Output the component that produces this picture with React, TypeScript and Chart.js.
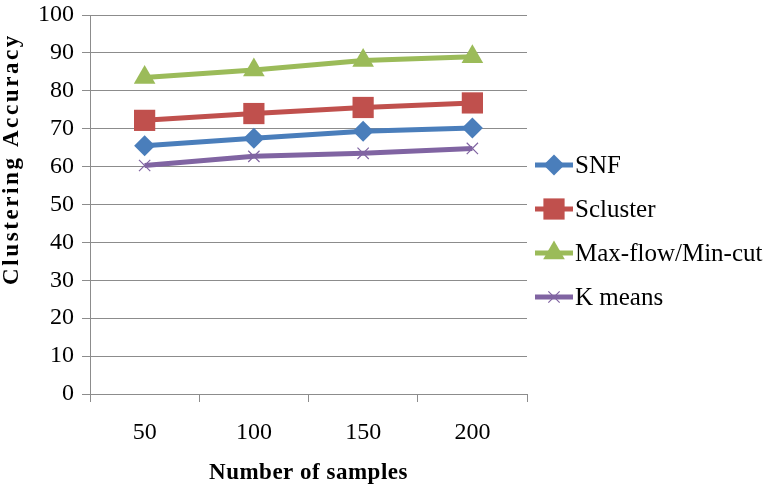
import React, { useEffect, useRef } from "react";
import { Chart, registerables } from "chart.js";

Chart.register(...registerables);

const categories = ["50", "100", "150", "200"];
const snf = [65.5, 67.5, 69.3, 70.2];
const scluster = [72.2, 74.0, 75.6, 76.8];
const maxflow = [83.5, 85.5, 88.0, 89.0];
const kmeans = [60.3, 62.7, 63.5, 64.8];
const seriesNames = ["SNF", "Scluster", "Max-flow/Min-cut", "K means"];
const xTitle = "Number of samples";
const yTitle = "Clustering Accuracy";

const colors = ["#4a7ebb", "#c0504d", "#9bbb59", "#8064a2"];
const styles = ["rectRot", "rect", "triangle", "crossRot"];
const radii = [10.5, 15, 12.5, 8];
const serif = "'Liberation Serif', 'Times New Roman', serif";

function drawMarker(ctx: CanvasRenderingContext2D, style: string, x: number, y: number, r: number, color: string) {
  ctx.save();
  ctx.fillStyle = color;
  ctx.strokeStyle = color;
  ctx.beginPath();
  if (style === "rectRot") {
    ctx.moveTo(x, y - r);
    ctx.lineTo(x + r, y);
    ctx.lineTo(x, y + r);
    ctx.lineTo(x - r, y);
    ctx.closePath();
    ctx.fill();
  } else if (style === "rect") {
    const s = r * Math.SQRT1_2;
    ctx.rect(x - s, y - s, 2 * s, 2 * s);
    ctx.fill();
  } else if (style === "triangle") {
    ctx.moveTo(x, y - r);
    ctx.lineTo(x + r * Math.sin(Math.PI / 3), y + r / 2);
    ctx.lineTo(x - r * Math.sin(Math.PI / 3), y + r / 2);
    ctx.closePath();
    ctx.fill();
  } else {
    const d = r * Math.SQRT1_2;
    ctx.lineWidth = 1.2;
    ctx.moveTo(x - d, y - d);
    ctx.lineTo(x + d, y + d);
    ctx.moveTo(x + d, y - d);
    ctx.lineTo(x - d, y + d);
    ctx.stroke();
  }
  ctx.restore();
}

const customPlugin = {
  id: "customDecor",
  afterDraw(chart: any) {
    const ctx: CanvasRenderingContext2D = chart.ctx;
    const area = chart.chartArea;
    // Y title
    ctx.save();
    ctx.fillStyle = "#000";
    ctx.font = `bold 23px ${serif}`;
    (ctx as any).letterSpacing = "2.6px";
    ctx.textAlign = "center";
    ctx.textBaseline = "middle";
    ctx.translate(12, 159);
    ctx.rotate(-Math.PI / 2);
    ctx.fillText(yTitle, 0, 0);
    ctx.restore();
    // X title
    ctx.save();
    ctx.fillStyle = "#000";
    ctx.font = `bold 23px ${serif}`;
    (ctx as any).letterSpacing = "0.5px";
    ctx.textAlign = "center";
    ctx.textBaseline = "middle";
    ctx.fillText(xTitle, (area.left + area.right) / 2, 473);
    ctx.restore();
    // Legend
    chart.data.datasets.forEach((ds: any, i: number) => {
      const y = 165 + i * 44;
      ctx.save();
      ctx.strokeStyle = colors[i];
      ctx.lineWidth = 5;
      ctx.beginPath();
      ctx.moveTo(535, y);
      ctx.lineTo(573, y);
      ctx.stroke();
      ctx.restore();
      drawMarker(ctx, styles[i], 554, y, radii[i], colors[i]);
      ctx.save();
      ctx.fillStyle = "#000";
      ctx.font = `25px ${serif}`;
      ctx.textAlign = "left";
      ctx.textBaseline = "middle";
      ctx.fillText(ds.label, 575, y + 1);
      ctx.restore();
    });
  },
};

export default function App() {
  const ref = useRef<HTMLCanvasElement>(null);
  useEffect(() => {
    if (!ref.current) return;
    const values = [snf, scluster, maxflow, kmeans];
    const chart = new Chart(ref.current, {
      type: "line",
      data: {
        labels: categories,
        datasets: values.map((v, i) => ({
          label: seriesNames[i],
          data: v,
          borderColor: colors[i],
          backgroundColor: colors[i],
          borderWidth: 5,
          pointStyle: styles[i] as any,
          pointRadius: radii[i],
          pointBorderWidth: i === 3 ? 1.2 : 0,
          pointBorderColor: colors[i],
          pointBackgroundColor: colors[i],
          tension: 0,
        })),
      },
      options: {
        responsive: false,
        animation: false,
        layout: { padding: { top: 11, right: 241, left: 0, bottom: 0 } },
        plugins: { legend: { display: false }, tooltip: { enabled: false } },
        scales: {
          x: {
            type: "category",
            offset: true,
            grid: {
              display: true,
              drawOnChartArea: false,
              drawTicks: true,
              tickLength: 8,
              color: "#8c8c8c",
              offset: true,
            },
            border: { display: true, color: "#8c8c8c", width: 1 },
            ticks: {
              color: "#000",
              padding: 19,
              maxRotation: 0,
              font: { family: serif, size: 24, lineHeight: 1 },
            },
            afterFit: (s: any) => {
              s.height = 96;
              s.paddingLeft = 0;
              s.paddingRight = 0;
            },
          },
          y: {
            min: 0,
            max: 100,
            ticks: {
              stepSize: 10,
              color: "#000",
              padding: 8,
              font: { family: serif, size: 24, lineHeight: 1 },
            },
            grid: { color: "#8c8c8c", tickLength: 8, drawTicks: true },
            border: { display: true, color: "#8c8c8c", width: 1 },
            afterFit: (s: any) => {
              s.width = 90;
              s.paddingTop = 0;
              s.paddingBottom = 0;
            },
          },
        },
      },
      plugins: [customPlugin],
    });
    return () => chart.destroy();
  }, []);
  return (
    <div style={{ position: "fixed", left: 0, top: 0, width: 768, height: 490, background: "#fff" }}>
      <canvas ref={ref} width={768} height={490} />
    </div>
  );
}
